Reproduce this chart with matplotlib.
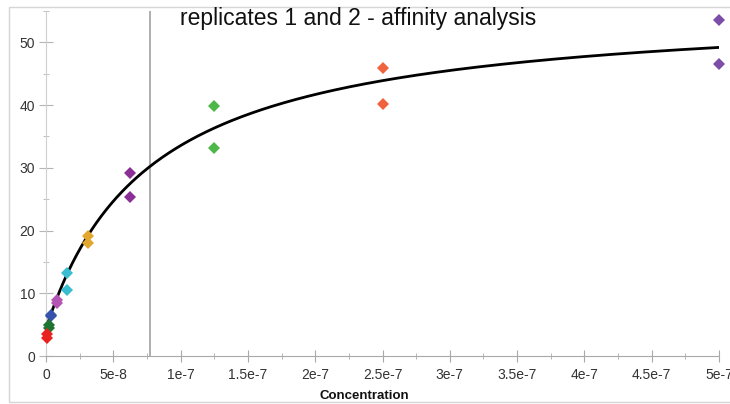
import numpy as np
import matplotlib
matplotlib.use("Agg")
import matplotlib.pyplot as plt
from matplotlib.ticker import MultipleLocator
from matplotlib.patches import Rectangle

# Nong do (M) - day pha loang 2 lan
nong_do = [5e-7, 2.5e-7, 1.25e-7, 6.25e-8, 3.125e-8, 1.5625e-8, 7.8125e-9, 3.906e-9, 1.953e-9, 9.77e-10]
# Dap ung cua lan lap 1 va lan lap 2
lap_1 = [53.5, 45.9, 39.9, 29.1, 19.2, 13.2, 9.0, 6.6, 5.0, 3.5]
lap_2 = [46.6, 40.1, 33.2, 25.3, 18.0, 10.6, 8.4, 6.3, 4.5, 2.9]
mau = ['#7d4ea9', '#f0633f', '#4db848', '#8a2f95', '#e2a72e',
       '#3abdd0', '#b455b4', '#3552ad', '#1f7431', '#e8231f']

# Tham so mo hinh gan ket 1:1 (steady state)
kd = 7.73e-8
rmax = 51.8
offset = 4.33

x_vitri = [0, 5e-8, 1e-7, 1.5e-7, 2e-7, 2.5e-7, 3e-7, 3.5e-7, 4e-7, 4.5e-7, 5e-7]
x_nhan = ['0', '5e-8', '1e-7', '1.5e-7', '2e-7', '2.5e-7', '3e-7', '3.5e-7', '4e-7', '4.5e-7', '5e-7']

plt.rcParams['font.family'] = ['Liberation Sans', 'DejaVu Sans']

fig = plt.figure(figsize=(7.3, 4.04), dpi=100)
# khung vien mau xam quanh hinh
fig.patches.append(Rectangle((9 / 730, 2 / 404), 730, 395 / 404, transform=fig.transFigure,
                             fill=False, edgecolor='#d6d6d6', linewidth=1))
ax = fig.add_axes([46 / 730, 1 - 356 / 404, 673 / 730, 345 / 404])

# duong cong fit
c = np.linspace(0, 5e-7, 400)
ax.plot(c, offset + rmax * c / (kd + c), color='black', linewidth=2, zorder=3)

# duong thang dung tai Kd
ax.axvline(kd, color='#a8a8a8', linewidth=1.3, zorder=1)

# cac diem du lieu cua hai lan lap
for i in range(len(nong_do)):
    ax.plot([nong_do[i], nong_do[i]], [lap_1[i], lap_2[i]], linestyle='none', marker='D',
            markersize=5.8, color=mau[i], markeredgewidth=0, zorder=4, clip_on=False)

ax.set_xlim(0, 5e-7)
ax.set_ylim(0, 55)

ax.set_xticks(x_vitri)
ax.set_xticklabels(x_nhan)
ax.xaxis.set_minor_locator(MultipleLocator(2.5e-8))
ax.yaxis.set_major_locator(MultipleLocator(10))
ax.yaxis.set_minor_locator(MultipleLocator(5))

for s in ['top', 'right']:
    ax.spines[s].set_visible(False)
ax.spines['left'].set_color('#cfcfcf')
ax.spines['bottom'].set_color('#a9a9a9')

ax.tick_params(axis='x', which='major', direction='inout', length=9, color='#a9a9a9',
               labelsize=10, labelcolor='#333333', pad=4)
ax.tick_params(axis='x', which='minor', direction='inout', length=5, color='#a9a9a9')
ax.tick_params(axis='y', which='major', direction='inout', length=10, color='#b5b5b5',
               labelsize=10, labelcolor='#333333', pad=3)
ax.tick_params(axis='y', which='minor', direction='inout', length=4, color='#b5b5b5')

# nhan truc x hoi lech trai so voi tam truc
fig.text(364 / 730, 1 - 396 / 404, 'Concentration', fontsize=9.5, fontweight='bold',
         ha='center', va='center', color='#111111')

fig.text(358 / 730, 1 - 18 / 404, 'replicates 1 and 2 - affinity analysis', fontsize=16.5,
         ha='center', va='center', color='#111111')

plt.savefig('out.png', dpi=100)
